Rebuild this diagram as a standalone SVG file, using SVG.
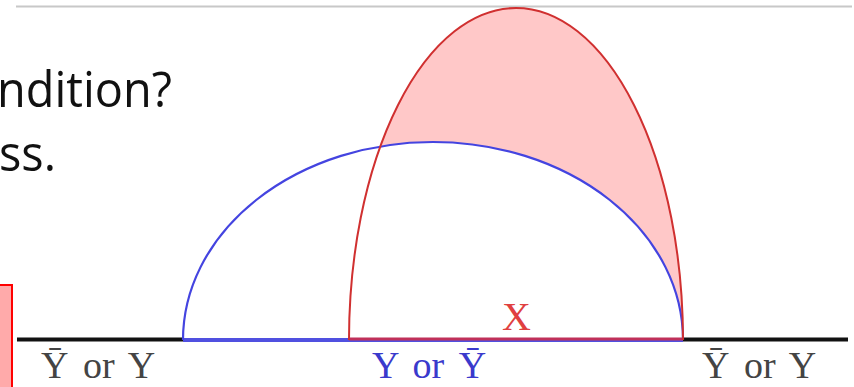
<svg xmlns="http://www.w3.org/2000/svg" width="854" height="387" viewBox="0 0 854 387">
<style>
.slide{font-family:"Open Sans","DejaVu Sans",sans-serif;font-size:50px;fill:#111}
.lbl{font-family:"Liberation Serif","DejaVu Serif",serif;font-size:38px;word-spacing:5px}
.gray{fill:#444}
.blue{fill:#3a3acc}
</style>
<rect width="854" height="387" fill="#fff"/>
<line x1="16" y1="6.5" x2="852" y2="6.5" stroke="#c8c8c8" stroke-width="2"/>
<g id="slide-text">
<text class="slide" x="-3" y="107" textLength="175" lengthAdjust="spacingAndGlyphs">ndition?</text>
<text class="slide" x="-1" y="171" textLength="57" lengthAdjust="spacingAndGlyphs">ss.</text>
</g>
<rect id="box" x="-2" y="285" width="14" height="104" fill="#ffaaaa" stroke="#ff0000" stroke-width="2"/>
<g id="regions">
<path id="x-region" d="M349,340 A167,332 0 0 1 683,340 Z" fill="#ffc8c8"/>
<path d="M183,340 A250,198 0 0 1 683,340 Z" fill="#fff"/>
</g>
<g id="connectors" fill="none">
<line x1="17" y1="339.5" x2="183" y2="339.5" stroke="#111" stroke-width="4"/>
<line x1="683" y1="339.5" x2="848" y2="339.5" stroke="#111" stroke-width="4"/>
<line x1="183" y1="340" x2="683" y2="340" stroke="#5050e0" stroke-width="4"/>
<line x1="349" y1="339" x2="683" y2="339" stroke="#c0305a" stroke-width="3"/>
<path id="blue-arc" d="M183,340 A250,198 0 0 1 683,340" stroke="#4444e0" stroke-width="2.2"/>
<path id="red-arc" d="M349,340 A167,332 0 0 1 683,340" stroke="#d03030" stroke-width="2"/>
</g>
<g id="labels" class="lbl">
<text class="gray" x="41" y="378">Ȳ or Y</text>
<text class="blue" x="372" y="378">Y or Ȳ</text>
<text class="gray" x="702" y="378">Ȳ or Y</text>
<text x="502" y="330" fill="#e04040" font-size="40" style="word-spacing:0">X</text>
</g>
</svg>
